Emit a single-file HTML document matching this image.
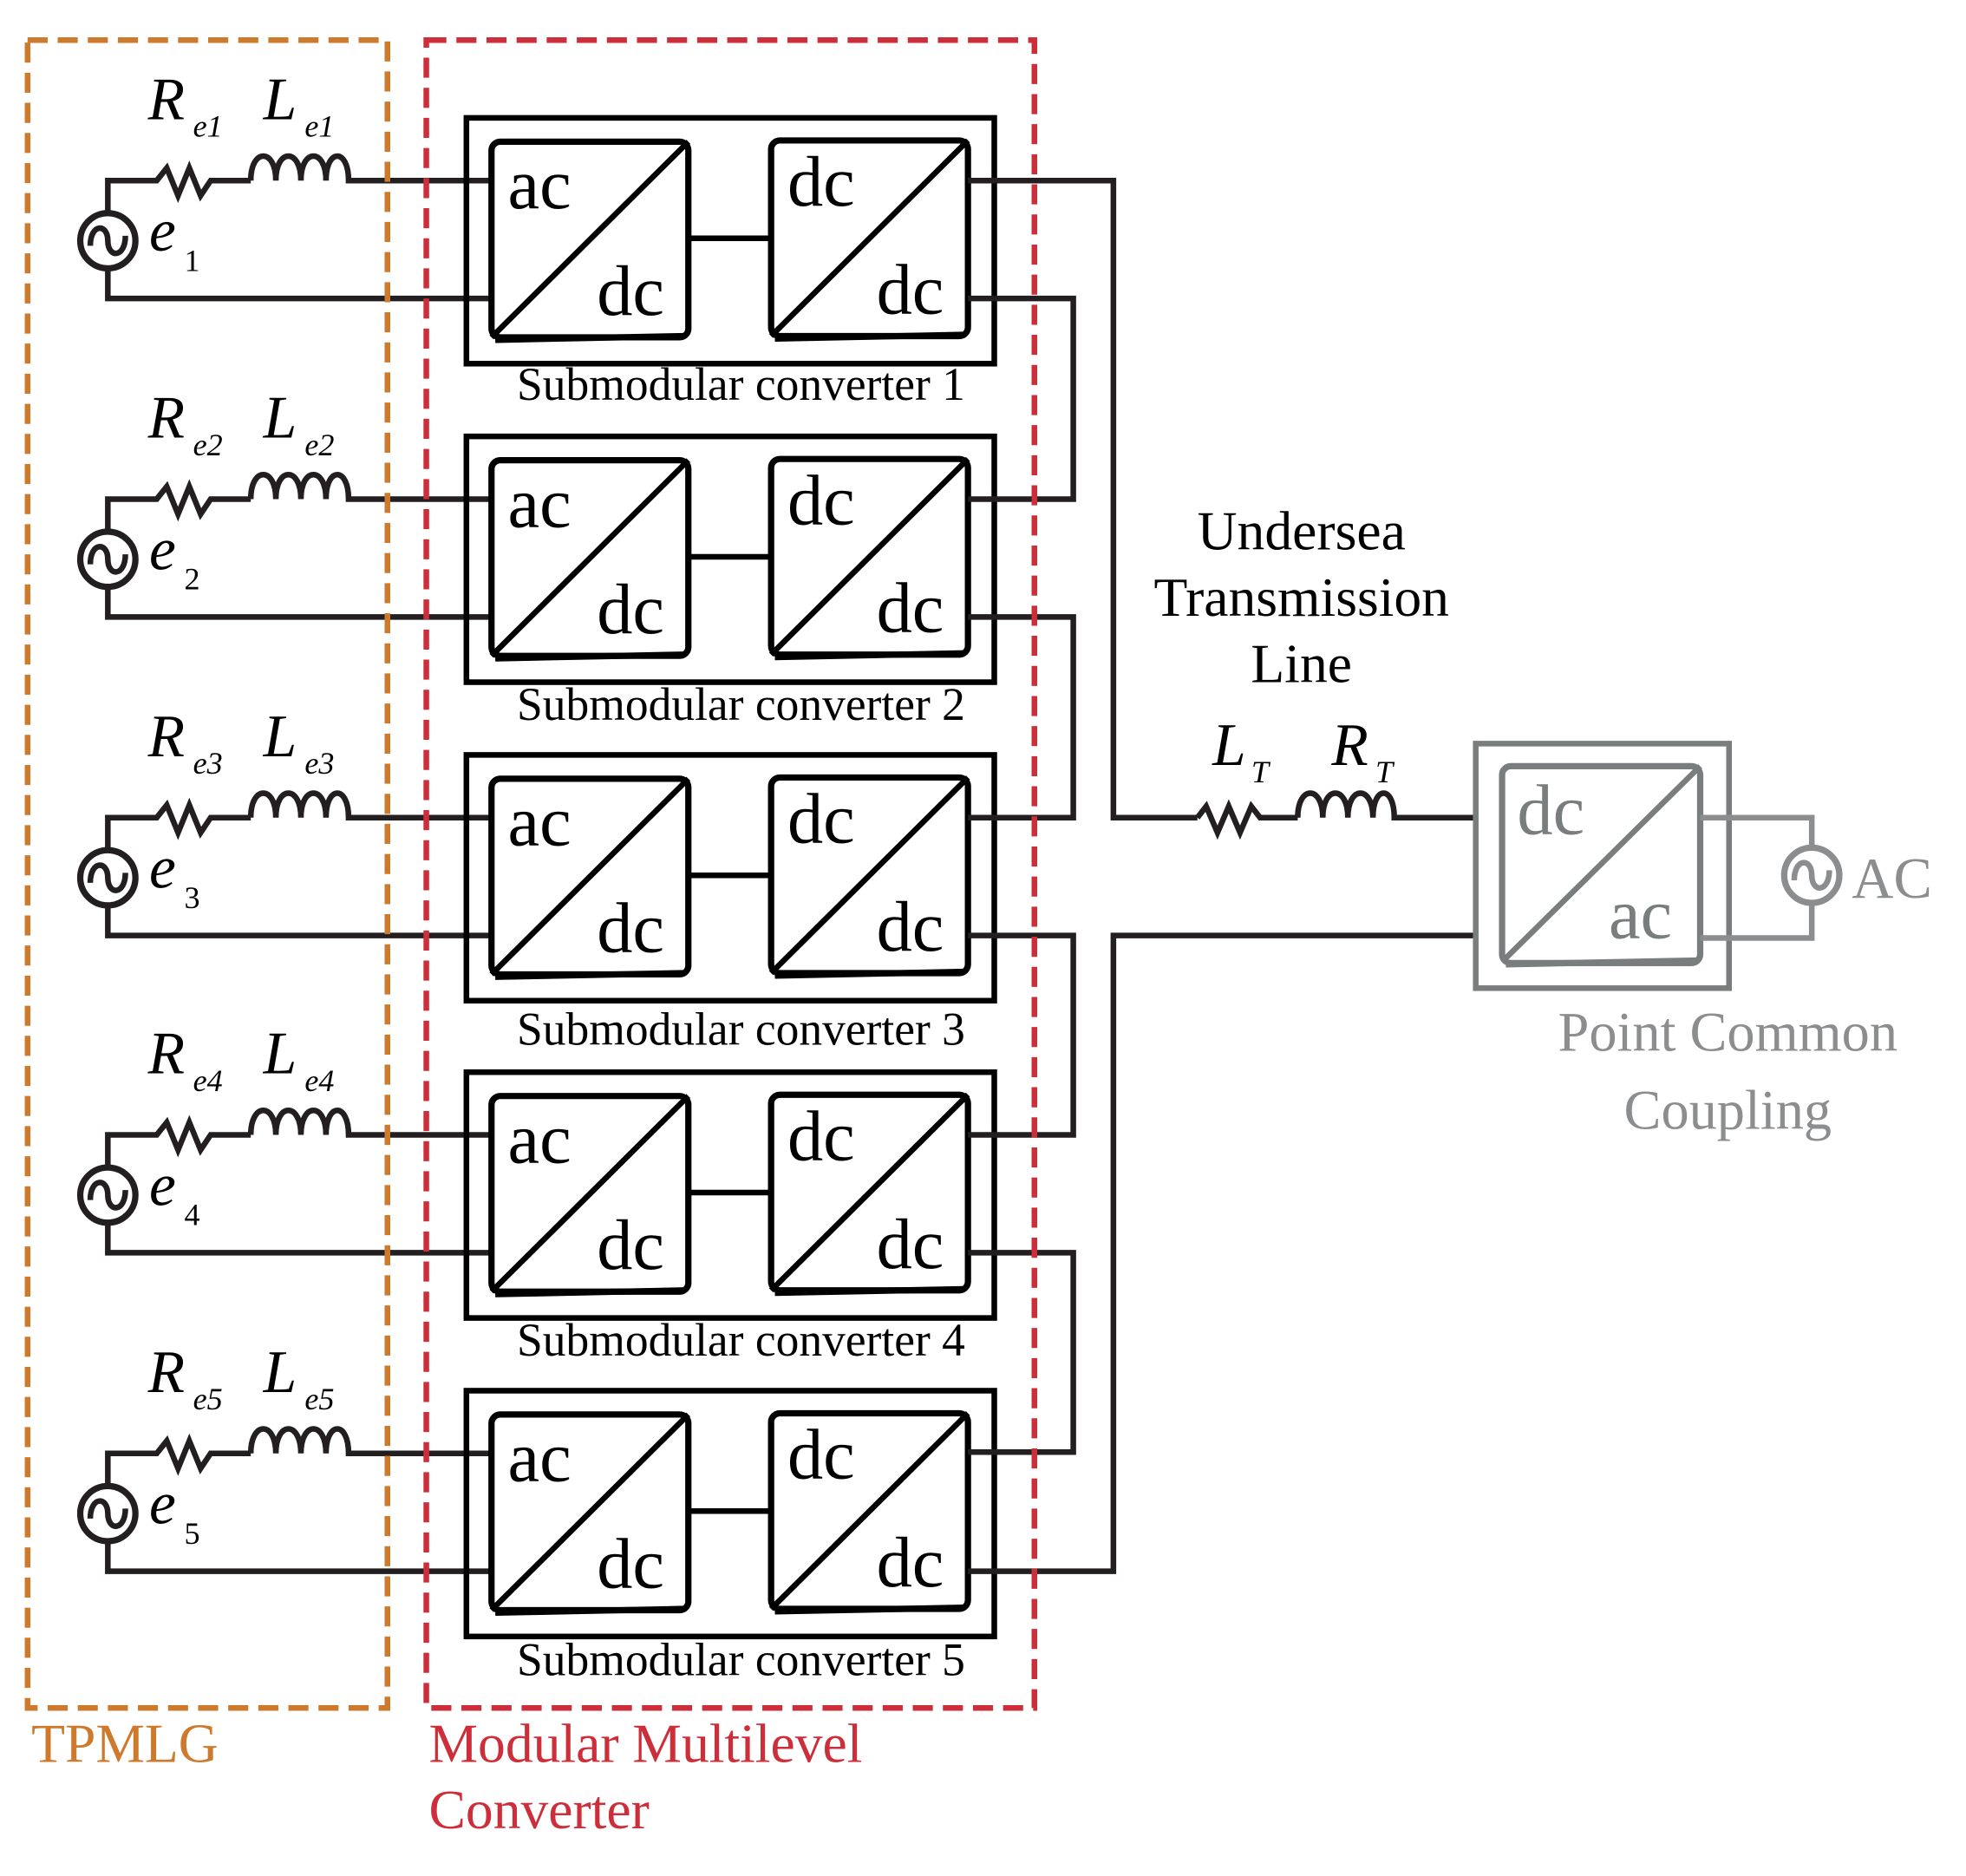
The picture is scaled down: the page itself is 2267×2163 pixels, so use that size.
<!DOCTYPE html>
<html><head><meta charset="utf-8"><style>
html,body{margin:0;padding:0;background:#fff}
svg{display:block}
text{font-family:"Liberation Serif",serif}
.i{font-style:italic}
</style></head><body>
<svg width="2267" height="2163" viewBox="0 0 1568 1496" preserveAspectRatio="none" xmlns="http://www.w3.org/2000/svg" font-family="Liberation Serif, serif">
<defs>
<g id="mod" font-family="Liberation Serif, serif">
  <path d="M86 168 V144 H125 L133 134 L142 156 L151 134 L160 156 L168 144 H200" fill="none" stroke="#231f20" stroke-width="4.5" stroke-linejoin="miter"/>
  <path d="M200 144 C200 118 220 118 220 144 C220 118 240 118 240 144 C240 118 260 118 260 144 C260 118 278 118 278 144 H392" fill="none" stroke="#231f20" stroke-width="4.5"/>
  <path d="M86 216 V238 H392" fill="none" stroke="#231f20" stroke-width="4.5"/>
  <circle cx="86" cy="192" r="22" fill="none" stroke="#231f20" stroke-width="5"/>
  <path d="M72 196 C72 178 86 178 86 192 C86 206 100 206 100 188" fill="none" stroke="#231f20" stroke-width="4.5"/>
  <text x="118" y="95" font-size="48" font-style="italic">R</text>
  <text x="210" y="95" font-size="48" font-style="italic">L</text>
  <text x="119" y="200" font-size="48" font-style="italic">e</text>
  <rect x="372" y="94" width="421" height="196" fill="none" stroke="#000" stroke-width="4.5"/>
  <rect x="392" y="113" width="157" height="156" rx="7" fill="none" stroke="#000" stroke-width="5"/>
  <line x1="395" y1="271" x2="546" y2="268" stroke="#000" stroke-width="5"/>
  <line x1="392" y1="269" x2="549" y2="113" stroke="#000" stroke-width="4.5"/>
  <rect x="615" y="112" width="157" height="156" rx="7" fill="none" stroke="#000" stroke-width="5"/>
  <line x1="618" y1="270" x2="769" y2="267" stroke="#000" stroke-width="5"/>
  <line x1="615" y1="268" x2="772" y2="112" stroke="#000" stroke-width="4.5"/>
  <line x1="549" y1="190" x2="615" y2="190" stroke="#000" stroke-width="4.5"/>
  <text x="405" y="166" font-size="57">ac</text>
  <text x="476" y="251" font-size="57">dc</text>
  <text x="628" y="164" font-size="57">dc</text>
  <text x="699" y="250" font-size="57">dc</text>
</g>
</defs>
<use href="#mod"/>
<use href="#mod" y="254"/>
<use href="#mod" y="508"/>
<use href="#mod" y="761"/>
<use href="#mod" y="1015"/>
<g font-size="37" text-anchor="middle">
<text x="591" y="319">Submodular converter 1</text>
<text x="591" y="574">Submodular converter 2</text>
<text x="591" y="833">Submodular  converter 3</text>
<text x="591" y="1081">Submodular converter 4</text>
<text x="591" y="1336">Submodular converter 5</text>
</g>
<g font-size="25">
<text x="154" y="109" class="i">e1</text><text x="243" y="109" class="i">e1</text><text x="147" y="216">1</text>
<text x="154" y="363" class="i">e2</text><text x="243" y="363" class="i">e2</text><text x="147" y="470">2</text>
<text x="154" y="617" class="i">e3</text><text x="243" y="617" class="i">e3</text><text x="147" y="724">3</text>
<text x="154" y="870" class="i">e4</text><text x="243" y="870" class="i">e4</text><text x="147" y="977">4</text>
<text x="154" y="1124" class="i">e5</text><text x="243" y="1124" class="i">e5</text><text x="147" y="1231">5</text>
</g>
<g fill="none" stroke="#231f20" stroke-width="4.5">
  <path d="M772 144 H888 V652 H955"/>
  <path d="M772 1253 H888 V746 H1177"/>
  <path d="M772 238 H856 V398 H772"/>
  <path d="M772 492 H856 V652 H772"/>
  <path d="M772 746 H856 V905 H772"/>
  <path d="M772 999 H856 V1158 H772"/>
  <path d="M955 652 L962 643 L971 664 L980 643 L989 664 L998 643 L1005 652 H1035"/>
  <path d="M1035 652 C1035 626 1055 626 1055 652 C1055 626 1075 626 1075 652 C1075 626 1095 626 1095 652 C1095 626 1112 626 1112 652 H1178"/>
</g>
<text x="967" y="610" font-size="48" class="i">L</text>
<text x="998" y="624" font-size="25" class="i">T</text>
<text x="1062" y="610" font-size="48" class="i">R</text>
<text x="1097" y="624" font-size="25" class="i">T</text>
<g font-size="44" text-anchor="middle">
<text x="1038" y="438">Undersea</text>
<text x="1038" y="491">Transmission</text>
<text x="1038" y="544">Line</text>
</g>
<g fill="none" stroke="#7a7d7d" stroke-width="4.5">
  <rect x="1177" y="593" width="202" height="195"/>
  <rect x="1198" y="611" width="158" height="157" rx="7" stroke-width="5"/>
  <line x1="1201" y1="769" x2="1353" y2="766" stroke-width="5"/>
  <line x1="1198" y1="767" x2="1356" y2="611"/>
</g>
<g fill="none" stroke="#8c8d8f" stroke-width="4.5">
  <path d="M1356 652 H1445 V676"/>
  <path d="M1445 720 V748 H1356"/>
  <circle cx="1445" cy="698" r="22" stroke-width="5"/>
  <path d="M1431 702 C1431 684 1445 684 1445 698 C1445 712 1459 712 1459 694"/>
</g>
<text x="1210" y="665" font-size="57" fill="#7a7d7d">dc</text>
<text x="1283" y="748" font-size="57" fill="#7a7d7d">ac</text>
<text x="1477" y="716" font-size="46" fill="#8c8d8f">AC</text>
<g font-size="44.5" fill="#8c8d8f" text-anchor="middle">
<text x="1378" y="838">Point Common</text>
<text x="1378" y="900">Coupling</text>
</g>
<rect x="22" y="32" width="287" height="1330" fill="none" stroke="#cd7a2c" stroke-width="4.5" stroke-dasharray="16 8"/>
<rect x="340" y="32" width="485" height="1330" fill="none" stroke="#cc2f3a" stroke-width="4.5" stroke-dasharray="16 8"/>
<text x="25" y="1405" font-size="44" fill="#cd7a2c">TPMLG</text>
<text x="342" y="1405" font-size="44" fill="#cc2f3a">Modular Multilevel</text>
<text x="342" y="1458" font-size="44" fill="#cc2f3a">Converter</text>
</svg>
</body></html>
